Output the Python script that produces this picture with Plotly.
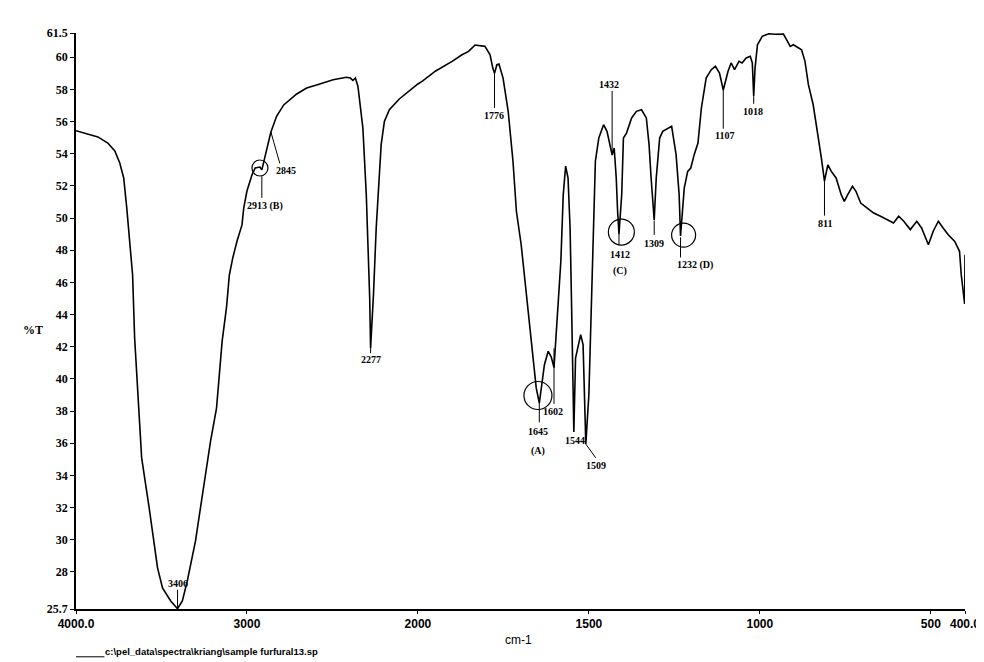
import plotly.graph_objects as go

# ---------------- data ----------------
wavenumber = [4000, 3930, 3872, 3814, 3773, 3744, 3721, 3703, 3686, 3669, 3657, 3645, 3616, 3572,
              3547, 3523, 3494, 3446, 3406, 3378, 3349, 3301, 3272, 3242, 3213, 3178, 3161, 3145,
              3120, 3103, 3083, 3058, 3029, 3019, 3000, 2971, 2952, 2924, 2913, 2890, 2860, 2826,
              2785, 2709, 2651, 2593, 2496, 2419, 2395, 2380, 2366, 2351, 2322, 2302, 2287, 2282,
              2277, 2260, 2244, 2229, 2215, 2196, 2167, 2109, 2031, 2000, 1986, 1948, 1900, 1871,
              1852, 1833, 1804, 1789, 1781, 1776, 1769, 1763, 1751, 1736, 1722, 1712, 1698, 1683,
              1669, 1654, 1645, 1630, 1619, 1610, 1602, 1582, 1575, 1568, 1561, 1555, 1551, 1547,
              1544, 1539, 1532, 1524, 1517, 1513, 1509, 1500, 1491, 1486, 1481, 1471, 1457, 1447,
              1437, 1432, 1426, 1420, 1416, 1412, 1404, 1399, 1390, 1375, 1361, 1346, 1332, 1324,
              1318, 1309, 1303, 1293, 1284, 1269, 1258, 1245, 1236, 1232, 1221, 1211, 1202, 1192,
              1181, 1171, 1157, 1142, 1130, 1118, 1107, 1093, 1084, 1074, 1061, 1052, 1040, 1028,
              1022, 1018, 1014, 1007, 993, 974, 955, 931, 918, 911, 902, 878, 868, 858, 844, 830,
              820, 811, 801, 791, 777, 762, 753, 743, 729, 719, 705, 686, 667, 647, 628, 609, 594,
              579, 560, 541, 527, 507, 493, 478, 464, 449, 430, 416, 411, 404, 401, 400]
transmittance = [55.43, 55.22, 55.04, 54.66, 54.17, 53.42, 52.49, 50.62, 48.57, 46.46, 42.54, 40.26,
                 35.09, 31.98, 29.93, 28.25, 27.01, 26.20, 25.72, 26.20, 27.44, 29.93, 31.98, 34.03,
                 36.14, 38.19, 40.24, 42.36, 44.41, 46.46, 47.52, 48.57, 49.57, 50.62, 51.68, 52.67,
                 53.11, 53.17, 52.99, 54.04, 55.35, 56.34, 57.03, 57.71, 58.08, 58.27, 58.60, 58.75,
                 58.70, 58.55, 58.70, 58.19, 55.60, 51.45, 47.31, 45.00, 41.90, 45.24, 49.38, 52.49,
                 54.56, 56.01, 56.73, 57.40, 58.08, 58.33, 58.52, 59.14, 59.74, 60.15, 60.36, 60.75,
                 60.67, 60.15, 59.32, 59.00, 59.53, 59.57, 58.70, 56.63, 53.53, 50.42, 48.34, 45.24,
                 42.13, 39.44, 38.50, 40.88, 41.72, 41.36, 40.70, 47.31, 51.45, 53.23, 52.49, 49.38,
                 45.00, 40.68, 36.70, 41.30, 41.90, 42.75, 42.13, 39.02, 35.95, 39.02, 45.24, 49.38,
                 53.53, 54.97, 55.80, 55.39, 54.35, 53.92, 54.35, 52.49, 50.42, 49.00, 51.45, 54.97,
                 55.28, 56.22, 56.63, 56.73, 56.22, 54.56, 52.49, 49.88, 52.49, 54.97, 55.39, 55.60,
                 55.70, 53.94, 51.45, 48.88, 51.87, 52.90, 53.11, 53.94, 54.66, 56.84, 58.70, 59.22,
                 59.43, 59.01, 57.96, 59.12, 59.64, 59.22, 59.74, 59.64, 59.95, 60.05, 59.64, 57.58,
                 59.32, 60.77, 61.29, 61.45, 61.42, 61.43, 60.98, 60.67, 60.77, 60.46, 59.74, 58.29,
                 57.04, 55.18, 53.73, 52.30, 53.31, 52.90, 52.49, 51.45, 51.04, 51.45, 51.97, 51.66,
                 50.93, 50.62, 50.31, 50.11, 49.90, 49.69, 50.11, 49.80, 49.28, 49.80, 49.38, 48.34,
                 49.18, 49.80, 49.38, 48.96, 48.55, 47.93, 46.48, 45.24, 44.66, 47.72]

x_tick_values = [4000, 3000, 2000, 1500, 1000, 500, 400]
x_tick_labels = ["4000.0", "3000", "2000", "1500", "1000", "500", "400.0"]
y_tick_values = [25.7, 28, 30, 32, 34, 36, 38, 40, 42, 44, 46, 48, 50, 52, 54, 56, 58, 60, 61.5]
y_tick_labels = ["25.7", "28", "30", "32", "34", "36", "38", "40", "42", "44", "46", "48",
                 "50", "52", "54", "56", "58", "60", "61.5"]

# peak labels: text, label wavenumber, label %T, marker line wavenumber, line %T from, line %T to
peak_labels = [
    ("3406", 3406, 27.3, 3406, 25.7, 26.9),
    ("2913 (B)", 2895, 50.75, 2913, 52.6, 51.25),
    ("2845", 2772, 52.95, None, None, None),
    ("2277", 2273, 41.2, 2277, 41.9, 41.6),
    ("1776", 1778, 56.4, 1776, 59.0, 56.85),
    ("1432", 1440, 58.3, 1432, 57.9, 54.0),
    ("1412", 1408, 47.76, 1412, 49.0, 48.3),
    ("(C)", 1408, 46.7, None, None, None),
    ("1309", 1310, 48.4, 1309, 49.85, 48.95),
    ("1232 (D)", 1191, 47.08, 1232, 48.8, 47.55),
    ("1107", 1104, 55.1, 1107, 57.96, 55.55),
    ("1018", 1021, 56.6, 1018, 57.58, 57.1),
    ("811", 810, 49.63, 811, 52.3, 50.15),
    ("1645", 1648, 36.76, 1645, 38.5, 37.3),
    ("(A)", 1648, 35.5, None, None, None),
    ("1602", 1604, 38.0, 1602, 41.9, 38.45),
    ("1544", 1541, 36.2, None, None, None),
    ("1509", 1480, 34.6, None, None, None),
]
# circled bands: wavenumber, %T, radius in px
circled = [(2924, 53.11, 8), (1405, 49.13, 13), (1223, 48.94, 12), (1649, 38.97, 14)]


def to_axis(w):
    """Scale change at 2000 cm-1 (the region below 2000 is expanded 2x)."""
    return 4000 - w if w >= 2000 else 2000 + 2 * (2000 - w)


fig = go.Figure()
fig.add_trace(go.Scatter(
    x=[to_axis(w) for w in wavenumber], y=transmittance,
    mode="lines", line=dict(color="black", width=1.6), hoverinfo="skip", showlegend=False))

label_font = dict(family="Liberation Serif", size=10, color="black")
annotations = []
shapes = []
for text, wl, tl, wm, t1, t2 in peak_labels:
    annotations.append(dict(x=to_axis(wl), y=tl, xref="x", yref="y", text="<b>%s</b>" % text,
                            showarrow=False, font=label_font, xanchor="center", yanchor="middle"))
    if wm is not None:
        shapes.append(dict(type="line", xref="x", yref="y", x0=to_axis(wm), x1=to_axis(wm),
                           y0=t1, y1=t2, line=dict(color="black", width=1)))
# slanted marker lines (2845 and 1509)
shapes.append(dict(type="line", xref="x", yref="y", x0=to_axis(2860), x1=to_axis(2808),
                   y0=55.35, y1=53.4, line=dict(color="black", width=1)))
shapes.append(dict(type="line", xref="x", yref="y", x0=to_axis(1509), x1=to_axis(1480),
                   y0=35.95, y1=35.1, line=dict(color="black", width=1)))
for w, t, r in circled:
    shapes.append(dict(type="circle", xref="x", yref="y", xsizemode="pixel", ysizemode="pixel",
                       xanchor=to_axis(w), yanchor=t, x0=-r, x1=r, y0=-r, y1=r,
                       line=dict(color="black", width=1.2)))

# axis titles and footer
annotations.append(dict(x=-0.048, y=0.485, xref="paper", yref="paper", text="<b>%T</b>",
                        showarrow=False, xanchor="center", yanchor="middle",
                        font=dict(family="Liberation Serif", size=12, color="black")))
annotations.append(dict(x=0.498, y=-0.054, xref="paper", yref="paper", text="cm-1", showarrow=False,
                        font=dict(family="Liberation Sans", size=12, color="black"),
                        xanchor="center", yanchor="middle"))
annotations.append(dict(x=0.03, y=-0.074, xref="paper", yref="paper",
                        text="<b>c:\\pel_data\\spectra\\kriang\\sample furfural13.sp</b>",
                        showarrow=False, font=dict(family="Liberation Sans", size=9.5, color="black"),
                        xanchor="left", yanchor="middle"))
shapes.append(dict(type="line", xref="paper", yref="paper", x0=0.0, x1=0.032, y0=-0.083, y1=-0.083,
                   line=dict(color="black", width=1)))

fig.update_layout(
    width=984, height=662,
    margin=dict(l=68, r=18, t=25, b=61),
    paper_bgcolor="white", plot_bgcolor="white",
    showlegend=False,
    annotations=annotations, shapes=shapes,
    xaxis=dict(range=[0, 5200], tickmode="array",
               tickvals=[to_axis(v) for v in x_tick_values],
               ticktext=["<b>%s</b>" % s for s in x_tick_labels],
               showgrid=False, zeroline=False, showline=True, linecolor="black", linewidth=1.5,
               ticks="outside", ticklen=3, tickcolor="black",
               tickfont=dict(family="Liberation Sans", size=12, color="black")),
    yaxis=dict(range=[25.7, 61.5], tickmode="array", tickvals=y_tick_values,
               ticktext=["<b>%s</b>" % s for s in y_tick_labels],
               showgrid=False, zeroline=False, showline=True, linecolor="black", linewidth=1.5,
               ticks="outside", ticklen=4, tickcolor="black",
               tickfont=dict(family="Liberation Serif", size=12, color="black")),
)

fig.write_html("out.html")
